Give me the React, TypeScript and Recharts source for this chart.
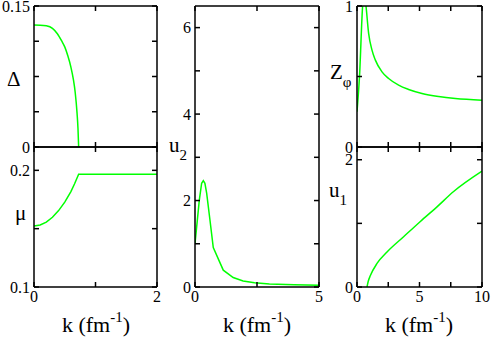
import { LineChart, Line, XAxis, YAxis } from "recharts";

// gap Delta vs k (top left)
const gapK = [0, 0.1, 0.2, 0.3, 0.38, 0.45, 0.5, 0.55, 0.6, 0.64, 0.67, 0.7, 0.715, 0.726];
const gapVals = [0.1297, 0.1296, 0.1289, 0.1262, 0.1205, 0.1128, 0.1065, 0.097, 0.085, 0.072, 0.058, 0.036, 0.02, 0];

// chemical potential mu vs k (bottom left)
const muK = [0, 0.1, 0.2, 0.3, 0.4, 0.5, 0.6, 0.66, 0.726, 2];
const muVals = [0.1523, 0.1531, 0.1556, 0.1598, 0.1655, 0.1728, 0.1818, 0.1885, 0.1966, 0.1966];

// u2 vs k (middle)
const u2K = [0, 0.067, 0.174, 0.268, 0.335, 0.4, 0.47, 0.603, 0.737, 1.14, 1.54, 1.94, 2.4, 3, 4, 5];
const u2Vals = [1.0, 1.39, 2.01, 2.4, 2.46, 2.4, 2.17, 1.55, 0.91, 0.39, 0.22, 0.14, 0.1, 0.07, 0.05, 0.04];

// Z_phi vs k (top right)
const zK = [0, 0.2, 0.45, 0.58, 0.72, 0.93, 1.2, 1.47, 2.0, 2.53, 3.33, 4.13, 5.2, 6.53, 7.87, 10];
const zVals = [0.25, 0.5, 1.0, 1.1, 1.0, 0.806, 0.687, 0.616, 0.533, 0.486, 0.4385, 0.408, 0.3795, 0.358, 0.344, 0.332];

// u1 vs k (bottom right)
const u1K = [0.8, 0.9, 1.07, 1.6, 2.4, 3.73, 5.07, 6.4, 7.73, 10];
const u1Vals = [0, 0.09, 0.18, 0.37, 0.55, 0.79, 1.03, 1.26, 1.5, 1.82];

const W = 491;
const H = 337;
const FONT = "'Liberation Serif', 'Times New Roman', serif";
const frame = { stroke: "#000", strokeWidth: 1.5 };
const TICK = 5;

const toRows = (ks: number[], vs: number[]) => ks.map((k, i) => ({ k, v: vs[i] }));

// inward tick marks, label outside (only for values listed)
const makeTick = (side: "left" | "right" | "top" | "bottom", labels: number[]) => (p: any) => {
  const { x, y, payload } = p;
  const show = labels.includes(payload.value);
  let line;
  if (side === "left") line = <line x1={x} x2={x + TICK} y1={y} y2={y} {...frame} />;
  else if (side === "right") line = <line x1={x} x2={x - TICK} y1={y} y2={y} {...frame} />;
  else if (side === "top") line = <line x1={x} x2={x} y1={y} y2={y + TICK} {...frame} />;
  else line = <line x1={x} x2={x} y1={y} y2={y - TICK} {...frame} />;
  return (
    <g>
      {line}
      {show && side === "left" && (
        <text x={x - 4} y={y} dy="0.35em" textAnchor="end" fontFamily={FONT} fontSize={16} fill="#000">
          {String(payload.value)}
        </text>
      )}
      {show && side === "bottom" && (
        <text x={x} y={y + 4} dy="0.71em" textAnchor="middle" fontFamily={FONT} fontSize={16} fill="#000">
          {String(payload.value)}
        </text>
      )}
    </g>
  );
};

const Title = ({ px, py, main, sub, subSize = 15 }: any) => (
  <text x={px} y={py} fontFamily={FONT} fontSize={21} fill="#000">
    {main}
    {sub && (
      <tspan dy={8} fontSize={subSize}>
        {sub}
      </tspan>
    )}
  </text>
);

const KTitle = ({ px, py }: any) => (
  <text x={px} y={py} textAnchor="middle" fontFamily={FONT} fontSize={22} fill="#000">
    k (fm
    <tspan dy={-10} fontSize={15}>
      -1
    </tspan>
    <tspan dy={10}>)</tspan>
  </text>
);

type PanelProps = {
  box: [number, number, number, number];
  rows: { k: number; v: number }[];
  xDomain: [number, number];
  xTicks: number[];
  xLabels: number[];
  yDomain: [number, number];
  yTicks: number[];
  yLabels: number[];
  yTitle: any;
  xTitle?: any;
  curve: "linear" | "monotone";
};

const LW = 20; // left axis width
const RW = 4; // right axis width
const BH = 20; // bottom axis height
const TH = 4; // top axis height

const Panel = ({ box, rows, xDomain, xTicks, xLabels, yDomain, yTicks, yLabels, yTitle, xTitle, curve }: PanelProps) => {
  const [l, t, r, b] = box;
  return (
    <div style={{ position: "absolute", left: 0, top: 0 }}>
      <LineChart width={W} height={H} data={rows}
        margin={{ left: l - LW, top: t - TH, right: W - r - RW, bottom: H - b - BH }}>
        <XAxis xAxisId="b" dataKey="k" type="number" domain={xDomain} ticks={xTicks} interval={0} height={BH}
          tickSize={0} tickMargin={0} axisLine={frame} tickLine={false} tick={makeTick("bottom", xLabels)}
          allowDataOverflow label={xTitle} />
        <XAxis xAxisId="t" orientation="top" dataKey="k" type="number" domain={xDomain} ticks={xTicks} interval={0}
          height={TH} tickSize={0} tickMargin={0} axisLine={frame} tickLine={false} tick={makeTick("top", [])}
          allowDataOverflow />
        <YAxis yAxisId="l" type="number" domain={yDomain} ticks={yTicks} interval={0} width={LW}
          tickSize={0} tickMargin={0} axisLine={frame} tickLine={false} tick={makeTick("left", yLabels)}
          allowDataOverflow label={yTitle} />
        <YAxis yAxisId="r" orientation="right" type="number" domain={yDomain} ticks={yTicks} interval={0} width={RW}
          tickSize={0} tickMargin={0} axisLine={frame} tickLine={false} tick={makeTick("right", [])}
          allowDataOverflow />
        <Line xAxisId="b" yAxisId="l" dataKey="v" type={curve} stroke="#00ff00" strokeWidth={1.5}
          dot={false} isAnimationActive={false} />
      </LineChart>
    </div>
  );
};

export default function App() {
  return (
    <div style={{ position: "absolute", left: 0, top: 0, width: W, height: H, background: "#fff" }}>
      <Panel box={[34, 6, 157, 147]} rows={toRows(gapK, gapVals)} xDomain={[0, 2]} xTicks={[0, 1, 2]} xLabels={[]}
        yDomain={[0, 0.15]} yTicks={[0, 0.0375, 0.075, 0.1125, 0.15]} yLabels={[0, 0.15]} curve="monotone"
        yTitle={<Title px={7} py={86} main={"\u0394"} />} />
      <Panel box={[34, 147, 157, 287]} rows={toRows(muK, muVals)} xDomain={[0, 2]} xTicks={[0, 1, 2]} xLabels={[0, 2]}
        yDomain={[0.1, 0.22]} yTicks={[0.1, 0.15, 0.2]} yLabels={[0.1, 0.2]} curve="linear"
        yTitle={<Title px={15} py={220} main={"\u03bc"} />} xTitle={<KTitle px={96} py={332} />} />
      <Panel box={[195, 6, 319, 287]} rows={toRows(u2K, u2Vals)} xDomain={[0, 5]} xTicks={[0, 2.5, 5]} xLabels={[0, 5]}
        yDomain={[0, 6.5]} yTicks={[0, 1, 2, 3, 4, 5, 6]} yLabels={[0, 2, 4, 6]} curve="linear"
        yTitle={<Title px={169} py={152} main="u" sub="2" />} xTitle={<KTitle px={257} py={332} />} />
      <Panel box={[357, 6, 482, 147]} rows={toRows(zK, zVals)} xDomain={[0, 10]} xTicks={[0, 2.5, 5, 7.5, 10]} xLabels={[]}
        yDomain={[0, 1]} yTicks={[0, 0.5, 1]} yLabels={[0, 1]} curve="monotone"
        yTitle={<Title px={330} py={79} main="Z" sub={"\u03c6"} />} />
      <Panel box={[357, 147, 482, 287]} rows={toRows(u1K, u1Vals)} xDomain={[0, 10]} xTicks={[0, 2.5, 5, 7.5, 10]}
        xLabels={[0, 5, 10]} yDomain={[0, 2.2]} yTicks={[0, 1, 2]} yLabels={[0, 2]} curve="monotone"
        yTitle={<Title px={329} py={197} main="u" sub="1" />} xTitle={<KTitle px={419} py={332} />} />
    </div>
  );
}
